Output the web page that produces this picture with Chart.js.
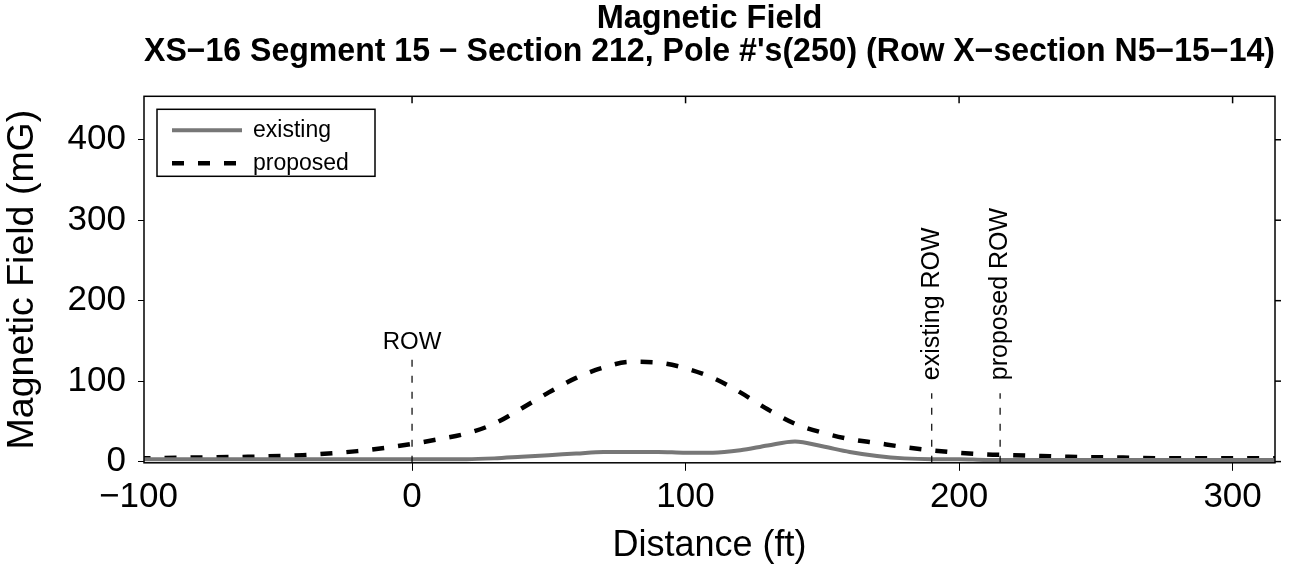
<!DOCTYPE html>
<html>
<head>
<meta charset="utf-8">
<script src="https://cdn.jsdelivr.net/npm/chart.js@4.4.1/dist/chart.umd.min.js"></script>
<style>
  html, body { margin: 0; padding: 0; background: #fff; }
</style>
</head>
<body>
<canvas id="chart" width="1296" height="572"></canvas>
<script>
// valores
const distance = [-100, -80, -60, -40, -20, -10, 0, 10, 20, 30, 40, 50, 60, 70, 80, 90, 100, 110, 120, 130, 140, 150, 160, 170, 180, 190, 200, 210, 220, 230, 240, 260, 280, 300, 320];
const existing = [3, 3, 3, 3, 3, 3, 3, 3, 3, 4, 6, 8, 10, 12, 12, 12, 11, 11, 14, 20, 25, 19, 12, 7, 4, 3, 3, 2, 2, 2, 2, 2, 2, 2, 2];
const proposed = [4, 5, 6, 8, 13, 17, 22, 28, 35, 47, 66, 86, 104, 117, 124, 123, 116, 104, 86, 65, 47, 36, 28, 23, 18, 14, 11, 9, 8, 7, 6, 5, 4, 4, 4];
const xTicks = [-100, 0, 100, 200, 300];
const yTicks = [0, 100, 200, 300, 400];
const rowX = [0, 190, 215];
const rowTop = [127, 85, 85];
const rowLabels = ['ROW', 'existing ROW', 'proposed ROW'];
const titleLines = ['Magnetic Field', "XS\u221216 Segment 15 \u2212 Section 212, Pole #'s(250) (Row X\u2212section N5\u221215\u221214)"];

const FONT = "'Liberation Sans', Arial, sans-serif";

const toPoints = vals => vals.map((v, i) => ({ x: distance[i], y: v }));

function line(ctx, x1, y1, x2, y2) {
  ctx.beginPath();
  ctx.moveTo(x1, y1);
  ctx.lineTo(x2, y2);
  ctx.stroke();
}

// marco, ticks de arriba/derecha, lineas ROW y leyenda
const framePlugin = {
  id: 'frame',
  afterDraw(chart) {
    const ctx = chart.ctx;
    const a = chart.chartArea;
    const x = chart.scales.x;
    const y = chart.scales.y;
    ctx.save();
    ctx.strokeStyle = '#000';
    ctx.lineWidth = 1.5;
    ctx.strokeRect(a.left, a.top, a.right - a.left, a.bottom - a.top);
    xTicks.forEach(v => {
      if (v < x.min || v > x.max) return;
      const px = x.getPixelForValue(v);
      line(ctx, px, a.top, px, a.top + 7);
    });
    yTicks.forEach(v => {
      const py = y.getPixelForValue(v);
      line(ctx, a.right, py, a.right + 6, py);
    });

    // lineas de ROW
    ctx.lineWidth = 1.2;
    ctx.setLineDash([7, 9]);
    ctx.fillStyle = '#000';
    rowX.forEach((v, i) => {
      const px = x.getPixelForValue(v);
      const top = y.getPixelForValue(rowTop[i]);
      line(ctx, px, a.bottom, px, top);
      if (i === 0) {
        ctx.font = '24px ' + FONT;
        ctx.textAlign = 'center';
        ctx.textBaseline = 'alphabetic';
        ctx.fillText(rowLabels[i], px, top - 10);
      } else {
        ctx.save();
        ctx.translate(px, top - 13);
        ctx.rotate(-Math.PI / 2);
        ctx.font = '25px ' + FONT;
        ctx.textAlign = 'left';
        ctx.textBaseline = 'middle';
        ctx.fillText(rowLabels[i], 0, 0);
        ctx.restore();
      }
    });

    // leyenda
    ctx.setLineDash([]);
    ctx.lineWidth = 1.5;
    const lx = a.left + 13, ly = a.top + 13;
    ctx.fillStyle = '#fff';
    ctx.fillRect(lx, ly, 218, 67);
    ctx.strokeRect(lx, ly, 218, 67);
    chart.data.datasets.forEach((ds, i) => {
      const yy = ly + 21 + i * 33;
      ctx.strokeStyle = ds.borderColor;
      ctx.lineWidth = ds.borderWidth;
      ctx.setLineDash(ds.borderDash || []);
      line(ctx, lx + 15, yy, lx + 85, yy);
      ctx.setLineDash([]);
      ctx.fillStyle = '#000';
      ctx.font = '23px ' + FONT;
      ctx.textAlign = 'left';
      ctx.textBaseline = 'middle';
      ctx.fillText(ds.label, lx + 96, yy);
    });
    ctx.restore();
  }
};

new Chart(document.getElementById('chart'), {
  type: 'line',
  data: {
    datasets: [{
      label: 'existing',
      data: toPoints(existing),
      borderColor: '#777777',
      borderWidth: 4,
      pointRadius: 0,
      cubicInterpolationMode: 'monotone'
    }, {
      label: 'proposed',
      data: toPoints(proposed),
      borderColor: '#000',
      borderWidth: 4.5,
      borderDash: [12, 14],
      pointRadius: 0,
      cubicInterpolationMode: 'monotone'
    }]
  },
  options: {
    responsive: false,
    animation: false,
    devicePixelRatio: 1,
    layout: { padding: { left: 0, right: 21, top: 0, bottom: 0 } },
    plugins: {
      legend: { display: false },
      tooltip: { enabled: false },
      title: {
        display: true,
        fullSize: false,
        text: titleLines,
        color: '#000',
        font: { family: FONT, size: 32.5, weight: 'bold', lineHeight: 1.02 },
        padding: { top: 2, bottom: 28 }
      }
    },
    scales: {
      x: {
        type: 'linear',
        min: -98,
        max: 315.5,
        afterBuildTicks: scale => { scale.ticks = xTicks.map(v => ({ value: v })); },
        ticks: {
          color: '#000',
          padding: 6,
          maxRotation: 0,
          font: { family: FONT, size: 35 },
          callback: v => String(v).replace('-', '\u2212')
        },
        grid: {
          drawOnChartArea: false,
          tickLength: 8,
          color: ctx => (ctx.tick && ctx.tick.value < -98) ? 'rgba(0,0,0,0)' : '#000'
        },
        border: { display: false },
        title: {
          display: true,
          text: 'Distance (ft)',
          color: '#000',
          font: { family: FONT, size: 36 },
          padding: { top: 0, bottom: 4 }
        }
      },
      y: {
        min: -1.5,
        max: 454,
        afterBuildTicks: scale => { scale.ticks = yTicks.map(v => ({ value: v })); },
        afterFit: scale => { scale.width = 144; },
        ticks: {
          color: '#000',
          padding: 12,
          font: { family: FONT, size: 35 }
        },
        grid: { drawOnChartArea: false, tickLength: 6, color: '#000' },
        border: { display: false },
        title: {
          display: true,
          text: 'Magnetic Field (mG)',
          color: '#000',
          font: { family: FONT, size: 37.5 },
          padding: { top: 0, bottom: 0 }
        }
      }
    }
  },
  plugins: [framePlugin]
});
</script>
</body>
</html>
